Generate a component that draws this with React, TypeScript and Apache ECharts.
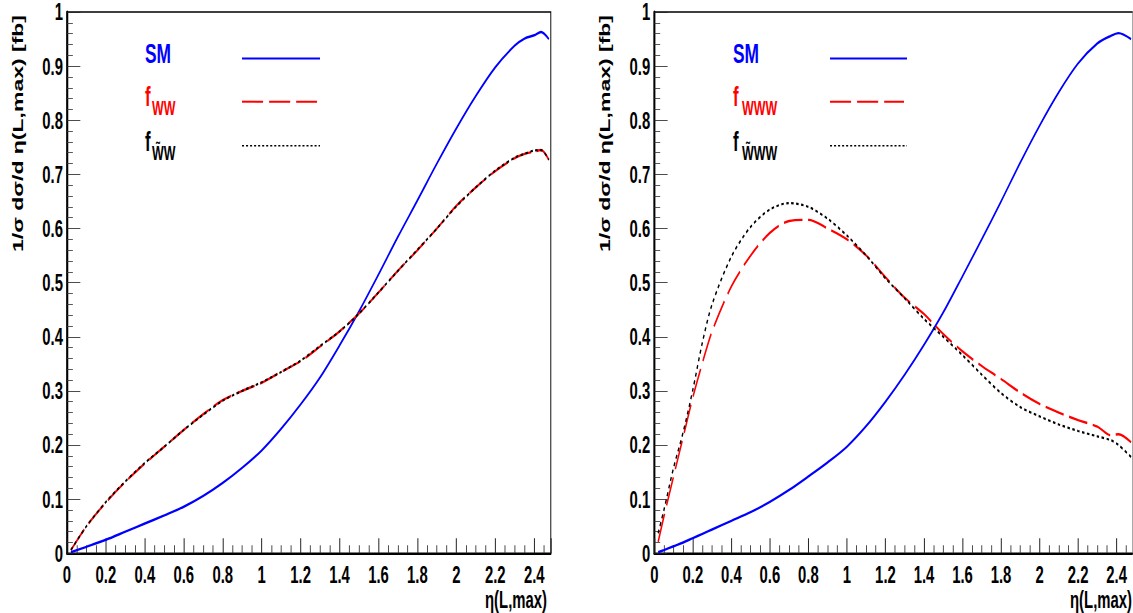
import React, { useEffect, useRef } from "react";
import * as echarts from "echarts";

// ---------- data ----------
const etaLeft = [0.02, 0.1, 0.2, 0.3, 0.4, 0.5, 0.6, 0.7, 0.8, 0.9, 1.0, 1.1, 1.2, 1.3, 1.4, 1.5, 1.6, 1.7, 1.8, 1.9, 2.0, 2.1, 2.2, 2.3, 2.35, 2.4, 2.435, 2.475];
const smLeft = [0.002, 0.012, 0.025, 0.04, 0.055, 0.07, 0.086, 0.106, 0.13, 0.158, 0.19, 0.23, 0.275, 0.325, 0.384, 0.447, 0.515, 0.585, 0.652, 0.72, 0.785, 0.845, 0.898, 0.938, 0.951, 0.957, 0.963, 0.95];
const fWW = [0.006, 0.05, 0.094, 0.132, 0.166, 0.197, 0.228, 0.257, 0.283, 0.3, 0.315, 0.335, 0.355, 0.382, 0.41, 0.443, 0.482, 0.522, 0.56, 0.6, 0.642, 0.676, 0.706, 0.73, 0.738, 0.742, 0.745, 0.727];
const fWtW = [0.006, 0.05, 0.095, 0.133, 0.167, 0.197, 0.228, 0.256, 0.282, 0.3, 0.316, 0.335, 0.356, 0.383, 0.41, 0.443, 0.482, 0.522, 0.561, 0.6, 0.641, 0.676, 0.707, 0.731, 0.738, 0.744, 0.745, 0.727];

const etaRight = [0.02, 0.05, 0.1, 0.15, 0.2, 0.25, 0.3, 0.4, 0.5, 0.6, 0.7, 0.8, 0.9, 1.0, 1.1, 1.2, 1.3, 1.4, 1.5, 1.6, 1.7, 1.8, 1.9, 2.0, 2.1, 2.2, 2.3, 2.37, 2.41, 2.475];
const smRight = [0.002, 0.006, 0.013, 0.02, 0.028, 0.036, 0.044, 0.06, 0.076, 0.095, 0.117, 0.142, 0.168, 0.197, 0.235, 0.28, 0.33, 0.385, 0.445, 0.512, 0.58, 0.65, 0.722, 0.79, 0.852, 0.905, 0.942, 0.956, 0.961, 0.95];
const fWWW = [0.021, 0.068, 0.142, 0.215, 0.288, 0.352, 0.41, 0.493, 0.55, 0.592, 0.614, 0.616, 0.6, 0.58, 0.55, 0.51, 0.472, 0.442, 0.405, 0.373, 0.346, 0.322, 0.297, 0.276, 0.26, 0.246, 0.234, 0.218, 0.22, 0.205];
const fWtWW = [0.037, 0.08, 0.158, 0.224, 0.302, 0.39, 0.46, 0.548, 0.603, 0.635, 0.647, 0.64, 0.618, 0.587, 0.55, 0.508, 0.471, 0.433, 0.4, 0.366, 0.33, 0.296, 0.27, 0.253, 0.238, 0.226, 0.216, 0.209, 0.2, 0.178];

const xTickLabels = ["0", "0.2", "0.4", "0.6", "0.8", "1", "1.2", "1.4", "1.6", "1.8", "2", "2.2", "2.4"];
const yTickLabels = ["0", "0.1", "0.2", "0.3", "0.4", "0.5", "0.6", "0.7", "0.8", "0.9", "1"];

const yTitle = "1/σ dσ/d η(L,max) [fb]";
const xTitle = "η(L,max)";

// ---------- layout ----------
const S = 0.62; // horizontal squeeze of the reference picture
const WIDTH = 1133 / S;
const HEIGHT = 613;
const X = (px: number) => px / S;
const FONT = "'Liberation Sans', Arial, Helvetica, sans-serif";
const X_MAX = 2.485;

const BLUE = "#0000ff";
const RED = "#ff0000";
const BLACK = "#000000";

function pairs(xs: number[], ys: number[]) {
  return xs.map((x, i) => [x, ys[i]]);
}

function findLabel(list: string[], v: number) {
  const hit = list.find((t) => Math.abs(parseFloat(t) - v) < 1e-6);
  return hit === undefined ? "" : hit;
}

function xAxis(i: number) {
  return {
    type: "value",
    gridIndex: i,
    min: 0,
    max: X_MAX,
    interval: 0.2,
    axisLine: { show: true, onZero: false, lineStyle: { color: "#000", width: 2 } },
    axisTick: { show: true, inside: true, length: 15, lineStyle: { color: "#222", width: 1.6 } },
    minorTick: { show: true, splitNumber: 4, length: 8, lineStyle: { color: "#333", width: 1.4 } },
    splitLine: { show: false },
    axisLabel: {
      show: true,
      margin: 9,
      color: "#000",
      fontFamily: FONT,
      fontWeight: "bold",
      fontSize: 24,
      showMaxLabel: false,
      formatter: (v: number) => findLabel(xTickLabels, v),
    },
  };
}

function yAxis(i: number) {
  return {
    type: "value",
    gridIndex: i,
    min: 0,
    max: 1,
    interval: 0.1,
    axisLine: { show: true, onZero: false, lineStyle: { color: "#000", width: 3.2 } },
    axisTick: { show: true, inside: true, length: 21.5, lineStyle: { color: "#222", width: 1 } },
    minorTick: { show: true, splitNumber: 5, length: 9.5, lineStyle: { color: "#333", width: 1 } },
    splitLine: { show: false },
    axisLabel: {
      show: true,
      margin: 6.5,
      color: "#000",
      fontFamily: FONT,
      fontWeight: "bold",
      fontSize: 24,
      formatter: (v: number) => findLabel(yTickLabels, v),
    },
  };
}

function line(idx: number, data: number[][], color: string, width: number, type: any, z: number) {
  return {
    type: "line",
    xAxisIndex: idx,
    yAxisIndex: idx,
    data,
    smooth: 0.3,
    symbol: "none",
    showSymbol: false,
    z,
    lineStyle: { color, width, type },
  };
}

function legendGraphics(fx: number, subx: number, lx1: number, lx2: number, sub1: string, sub2: string) {
  const big = `bold 28px ${FONT}`;
  const fFont = `bold 27px ${FONT}`;
  const subFont = `bold 20px ${FONT}`;
  return [
    { type: "text", x: X(fx), y: 53, style: { text: "SM", fill: BLUE, font: big, align: "left", verticalAlign: "middle" } },
    { type: "line", shape: { x1: X(lx1), y1: 58.5, x2: X(lx2), y2: 58.5 }, style: { stroke: BLUE, lineWidth: 2 } },
    { type: "text", x: X(fx), y: 97, style: { text: "f", fill: RED, font: fFont, align: "left", verticalAlign: "middle" } },
    { type: "text", x: X(subx), y: 108, style: { text: sub1, fill: RED, font: subFont, align: "left", verticalAlign: "middle" } },
    { type: "line", shape: { x1: X(lx1), y1: 101.7, x2: X(lx2 - 3), y2: 101.7 }, style: { stroke: RED, lineWidth: 2, lineDash: [34, 9.7] } },
    { type: "text", x: X(fx), y: 142, style: { text: "f", fill: BLACK, font: fFont, align: "left", verticalAlign: "middle" } },
    { type: "text", x: X(subx), y: 153, style: { text: sub2, fill: BLACK, font: subFont, align: "left", verticalAlign: "middle" } },
    { type: "line", shape: { x1: X(lx1), y1: 145.7, x2: X(lx2), y2: 145.7 }, style: { stroke: BLACK, lineWidth: 1.6, lineDash: [3.3, 3.2] } },
  ];
}

function titleGraphics(yTitleX: number, xTitleRight: number) {
  return [
    {
      type: "text",
      x: X(yTitleX),
      y: 15,
      rotation: Math.PI / 2,
      style: { text: yTitle, fill: "#000", font: `bold 23px ${FONT}`, align: "right", verticalAlign: "middle" },
    },
    {
      type: "text",
      x: X(xTitleRight),
      y: 600,
      style: { text: xTitle, fill: "#000", font: `bold 24px ${FONT}`, align: "right", verticalAlign: "middle" },
    },
  ];
}

export default function App() {
  const ref = useRef<HTMLDivElement>(null);

  useEffect(() => {
    if (!ref.current) return;
    const chart = echarts.init(ref.current, undefined, { renderer: "svg", width: WIDTH, height: HEIGHT });
    const gridBase = { show: true, borderColor: "#000", borderWidth: 1.5, backgroundColor: "transparent", top: 10, height: 543.3 };
    chart.setOption({
      animation: false,
      backgroundColor: "#ffffff",
      grid: [
        { ...gridBase, left: X(67), width: X(483.8) },
        { ...gridBase, left: X(654.3), width: X(484.6) },
      ],
      xAxis: [xAxis(0), xAxis(1)],
      yAxis: [yAxis(0), yAxis(1)],
      series: [
        line(0, pairs(etaLeft, smLeft), BLUE, 2.4, "solid", 3),
        line(0, pairs(etaLeft, fWW), RED, 2.4, [30, 9], 4),
        line(0, pairs(etaLeft, fWtW), BLACK, 2.2, [4, 4], 5),
        line(1, pairs(etaRight, smRight), BLUE, 2.4, "solid", 3),
        line(1, pairs(etaRight, fWWW), RED, 2.4, [30, 9], 4),
        line(1, pairs(etaRight, fWtWW), BLACK, 2.2, [4, 4], 5),
      ],
      graphic: [
        ...legendGraphics(145, 152, 242, 320, "WW", "W\u0303W"),
        ...legendGraphics(733, 742, 830, 907, "WWW", "W\u0303WW"),
        ...titleGraphics(18, 547),
        ...titleGraphics(605, 1132),
      ],
    });
    return () => chart.dispose();
  }, []);

  return (
    <div
      style={{ position: "fixed", left: 0, top: 0, width: 1133, height: HEIGHT, overflow: "hidden", background: "#fff" }}
    >
      <div
        ref={ref}
        style={{ width: WIDTH, height: HEIGHT, transform: `scaleX(${S})`, transformOrigin: "0 0" }}
      />
    </div>
  );
}
